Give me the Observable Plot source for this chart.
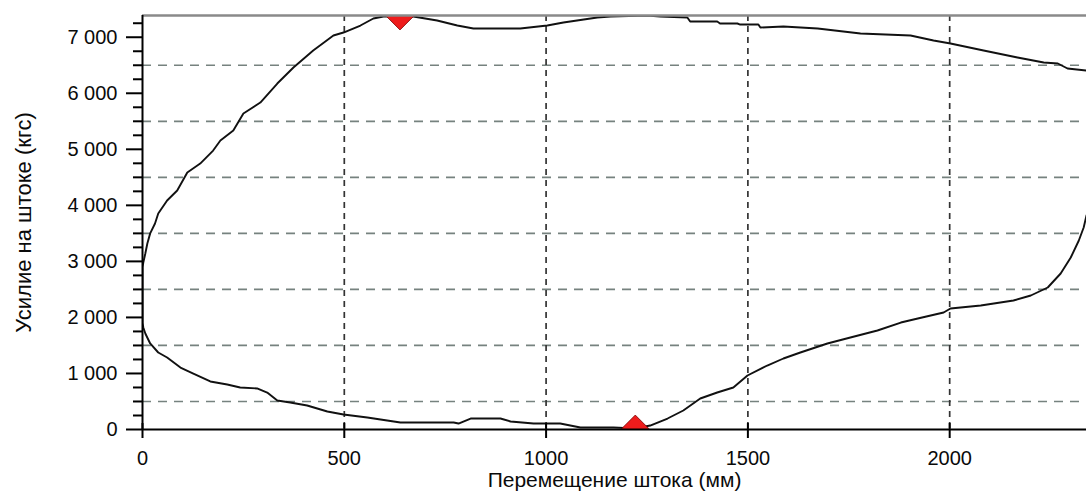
<!DOCTYPE html>
<html><head><meta charset="utf-8">
<script src="https://cdn.jsdelivr.net/npm/d3@7"></script>
<script src="https://cdn.jsdelivr.net/npm/@observablehq/plot@0.6"></script>
<style>body{margin:0;background:#fff;overflow:hidden}</style>
</head><body><div id="chart"></div>
<script>
// Dynamometer card: rod displacement (mm) vs. rod load (kgf)
const strokeX = [2339,2332,2320,2300,2275,2243,2201,2158,2077,2002,1985,1921,1879,1821,1754,1697,1630,1588,1548,1499,1464,1424,1382,1340,1301,1258,1221,1167,1085,1035,969,912,887,813,783,771,639,557,498,458,408,366,334,309,284,242,210,168,126,94,61,39,19,7,2,0,0,
  2,7,12,19,31,39,61,86,111,143,175,193,225,250,292,334,374,423,473,498,540,572,597,671,730,780,820,936,1003,1043,1127,1160,1250,1283,1350,1357,1424,1431,1474,1481,1526,1531,1588,1673,1779,1903,1960,2002,2084,2168,2233,2268,2292,2339];
const loadY = [3819,3605,3373,3069,2784,2534,2391,2302,2213,2159,2088,1981,1909,1767,1642,1535,1374,1267,1142,964,749,660,553,339,196,71,20,36,36,107,107,143,196,196,107,125,125,214,268,321,428,482,517,660,732,749,803,857,999,1106,1285,1374,1535,1713,1820,1900,2900,
  2980,3140,3320,3500,3676,3854,4086,4265,4586,4746,4978,5157,5335,5639,5835,6174,6460,6763,7031,7084,7209,7334,7370,7370,7298,7209,7156,7156,7209,7263,7352,7370,7385,7370,7352,7280,7280,7245,7245,7227,7227,7173,7191,7156,7066,7031,6941,6888,6763,6638,6549,6531,6442,6406];
const markerX = [638, 1221];
const markerY = [7388, 0];
const xDomain = [0, 2339];
const yDomain = [0, 7388];
const xTicks = [0, 500, 1000, 1500, 2000];
const xTickLabels = ["0", "500", "1000", "1500", "2000"];
const yTicks = [0, 1000, 2000, 3000, 4000, 5000, 6000, 7000];
const yTickLabels = ["0", "1 000", "2 000", "3 000", "4 000", "5 000", "6 000", "7 000"];
const yMinorTicks = [250, 500, 750, 1250, 1500, 1750, 2250, 2500, 2750, 3250, 3500, 3750, 4250, 4500, 4750, 5250, 5500, 5750, 6250, 6500, 6750, 7250];
const xGrid = [500, 1000, 1500, 2000];
const yGrid = [500, 1500, 2500, 3500, 4500, 5500, 6500];
const xLabel = "Перемещение штока (мм)";
const yLabel = "Усилие на штоке (кгс)";

const points = strokeX.map((x, i) => ({x, y: loadY[i]}));
const markers = markerX.map((x, i) => ({x, y: markerY[i]}));

const chart = Plot.plot({
  width: 1086, height: 498,
  marginLeft: 142, marginRight: 0, marginTop: 15, marginBottom: 69,
  style: {fontFamily: "'Liberation Sans', Arial, sans-serif", fontSize: "20px", color: "#0a0a0a", background: "#fff"},
  x: {domain: xDomain, label: null},
  y: {domain: yDomain, label: null},
  marks: [
    Plot.ruleY(yGrid, {stroke: "#76827f", strokeWidth: 1.7, strokeDasharray: "9,7"}),
    Plot.ruleX(xGrid, {stroke: "#333", strokeWidth: 1.7, strokeDasharray: "6,5"}),
    Plot.line(points, {x: "x", y: "y", stroke: "#111", strokeWidth: 1.9, clip: true}),
    Plot.dot(markers, {x: "x", y: "y", symbol: "diamond2", r: 13, fill: "#ee1c1c", stroke: "#7a0000", strokeWidth: 0.8, clip: true}),
    Plot.ruleY([yDomain[1]], {stroke: "#8a8a8a", strokeWidth: 2.5}),
    Plot.axisY(yMinorTicks, {tickSize: 9, tickFormat: () => "", strokeWidth: 2, stroke: "#000"}),
    Plot.axisY(yTicks, {tickSize: 16, tickPadding: 9, tickFormat: (d, i) => yTickLabels[i], strokeWidth: 2, stroke: "#000"}),
    Plot.axisX(xTicks, {tickSize: 15, dy: -6, tickFormat: () => "", strokeWidth: 2, stroke: "#000"}),
    Plot.axisX(xTicks, {tickSize: 0, tickPadding: 21, tickFormat: (d, i) => xTickLabels[i]}),
    Plot.ruleX([0], {stroke: "#000", strokeWidth: 2}),
    Plot.ruleY([0], {stroke: "#000", strokeWidth: 2}),
    Plot.text([xLabel], {frameAnchor: "bottom", dy: 57, fontSize: 21}),
    Plot.text([yLabel], {frameAnchor: "left", dx: -119, rotate: -90, textAnchor: "middle", fontSize: 22})
  ]
});
document.getElementById("chart").append(chart);
</script>
</body></html>
